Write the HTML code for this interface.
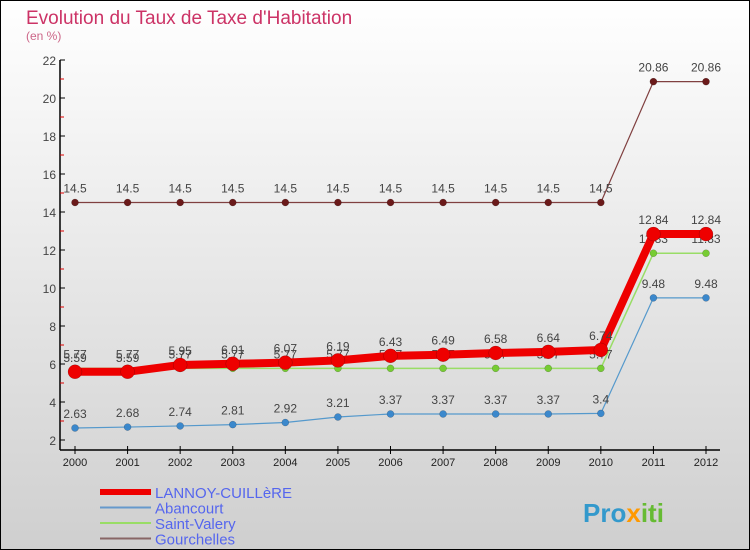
<!DOCTYPE html>
<html><head><meta charset="utf-8"><style>
body{margin:0}
svg{display:block;font-family:"Liberation Sans",sans-serif}
</style></head><body>
<svg id="c" width="750" height="550" viewBox="0 0 750 550">
<defs><linearGradient id="bg" x1="0" y1="0" x2="0" y2="1"><stop offset="0" stop-color="#ffffff"/><stop offset="1" stop-color="#cfcfcf"/></linearGradient></defs>
<rect x="0.5" y="0.5" width="749" height="549" fill="url(#bg)" stroke="#000"/>
<text x="26" y="24" font-size="19" fill="#cc3366">Evolution du Taux de Taxe d'Habitation</text>
<text x="26" y="40" font-size="12" fill="#cc6688">(en %)</text>
<g id="axes"></g><g id="series"></g><g id="legend"></g>
<text x="583" y="522" font-size="26" font-weight="bold" fill="#3399cc">Pro<tspan fill="#ff9900">x</tspan><tspan fill="#66bb33">iti</tspan></text>
</svg>
<script>
const years=[2000,2001,2002,2003,2004,2005,2006,2007,2008,2009,2010,2011,2012];
const lannoy=[5.59,5.59,5.95,6.01,6.07,6.19,6.43,6.49,6.58,6.64,6.74,12.84,12.84];
const abancourt=[2.63,2.68,2.74,2.81,2.92,3.21,3.37,3.37,3.37,3.37,3.4,9.48,9.48];
const saintValery=[5.77,5.77,5.77,5.77,5.77,5.77,5.77,5.77,5.77,5.77,5.77,11.83,11.83];
const gourchelles=[14.5,14.5,14.5,14.5,14.5,14.5,14.5,14.5,14.5,14.5,14.5,20.86,20.86];
const yTicks=[2,4,6,8,10,12,14,16,18,20,22];
const NS='http://www.w3.org/2000/svg';
const X=i=>75+i*(706-75)/12;
const Y=v=>440-(v-2)*19;
function mk(tag,attrs,parent,txt){const e=document.createElementNS(NS,tag);for(const k in attrs)e.setAttribute(k,attrs[k]);if(txt!==undefined)e.textContent=txt;parent.appendChild(e);return e;}
const ax=document.getElementById('axes');
let e=mk('line',{x1:60,y1:60,x2:60,y2:450,stroke:'#000','stroke-width':1.5},ax);


e=mk('line',{x1:60,y1:450,x2:720,y2:450,stroke:'#000','stroke-width':1.5},ax);


yTicks.forEach((t,k)=>{
 mk('line',{x1:60,y1:Y(t),x2:65,y2:Y(t),stroke:'#000'},ax);
 if(k<yTicks.length-1)mk('line',{x1:60,y1:Y(t+1),x2:64,y2:Y(t+1),stroke:'#d00'},ax);
 e=mk('text',{x:56,y:Y(t)+5,'font-size':12,fill:'#444','text-anchor':'end'},ax,String(t));
 
 
});
years.forEach((yr,i)=>{
 mk('line',{x1:X(i),y1:446,x2:X(i),y2:454,stroke:'#000'},ax);
 e=mk('text',{x:X(i),y:466,'font-size':11,fill:'#222','text-anchor':'middle'},ax,String(yr));
 
 
});
const sg=document.getElementById('series');
const series=[
 {n:'gourchelles',d:gourchelles,c:'#804040',w:1.2,r:3.5,f:'#6b1a1a'},
 {n:'abancourt',d:abancourt,c:'#5599cc',w:1.2,r:3.5,f:'#3b88cc'},
 {n:'saint-valery',d:saintValery,c:'#99dd66',w:1.5,r:3.5,f:'#77cc33'},
 {n:'lannoy-cuillere',d:lannoy,c:'#ee0000',w:8,r:7,f:'#ee0000'}
];
series.forEach(s=>{
 const g=mk('g',{},sg);
 
 
 const p=mk('polyline',{points:s.d.map((v,i)=>X(i)+','+Y(v)).join(' '),fill:'none',stroke:s.c,'stroke-width':s.w,'stroke-linejoin':'round'},g);
 
 
 s.d.forEach((v,i)=>{
  const c=mk('circle',{cx:X(i),cy:Y(v),r:s.r,fill:s.f,stroke:'rgba(0,0,0,0.3)','stroke-width':0.5},g);
  
  
  const t=mk('text',{x:X(i),y:Y(v)-10,'font-size':12,fill:'#444','text-anchor':'middle'},g,String(v));
  
  
 });
});
const lg=document.getElementById('legend');
const leg=[['LANNOY-CUILLèRE','#ee0000',6],['Abancourt','#6699cc',2],['Saint-Valery','#99dd66',2],['Gourchelles','#886666',2]];
leg.forEach((l,i)=>{
 const y=492+i*15.5;
 const g=mk('g',{},lg);
 
 
 mk('line',{x1:100,y1:y,x2:151,y2:y,stroke:l[1],'stroke-width':l[2]},g);
 mk('text',{x:155,y:y+6,'font-size':15,fill:'#5566ee'},g,l[0]);
});
</script>
</body></html>
